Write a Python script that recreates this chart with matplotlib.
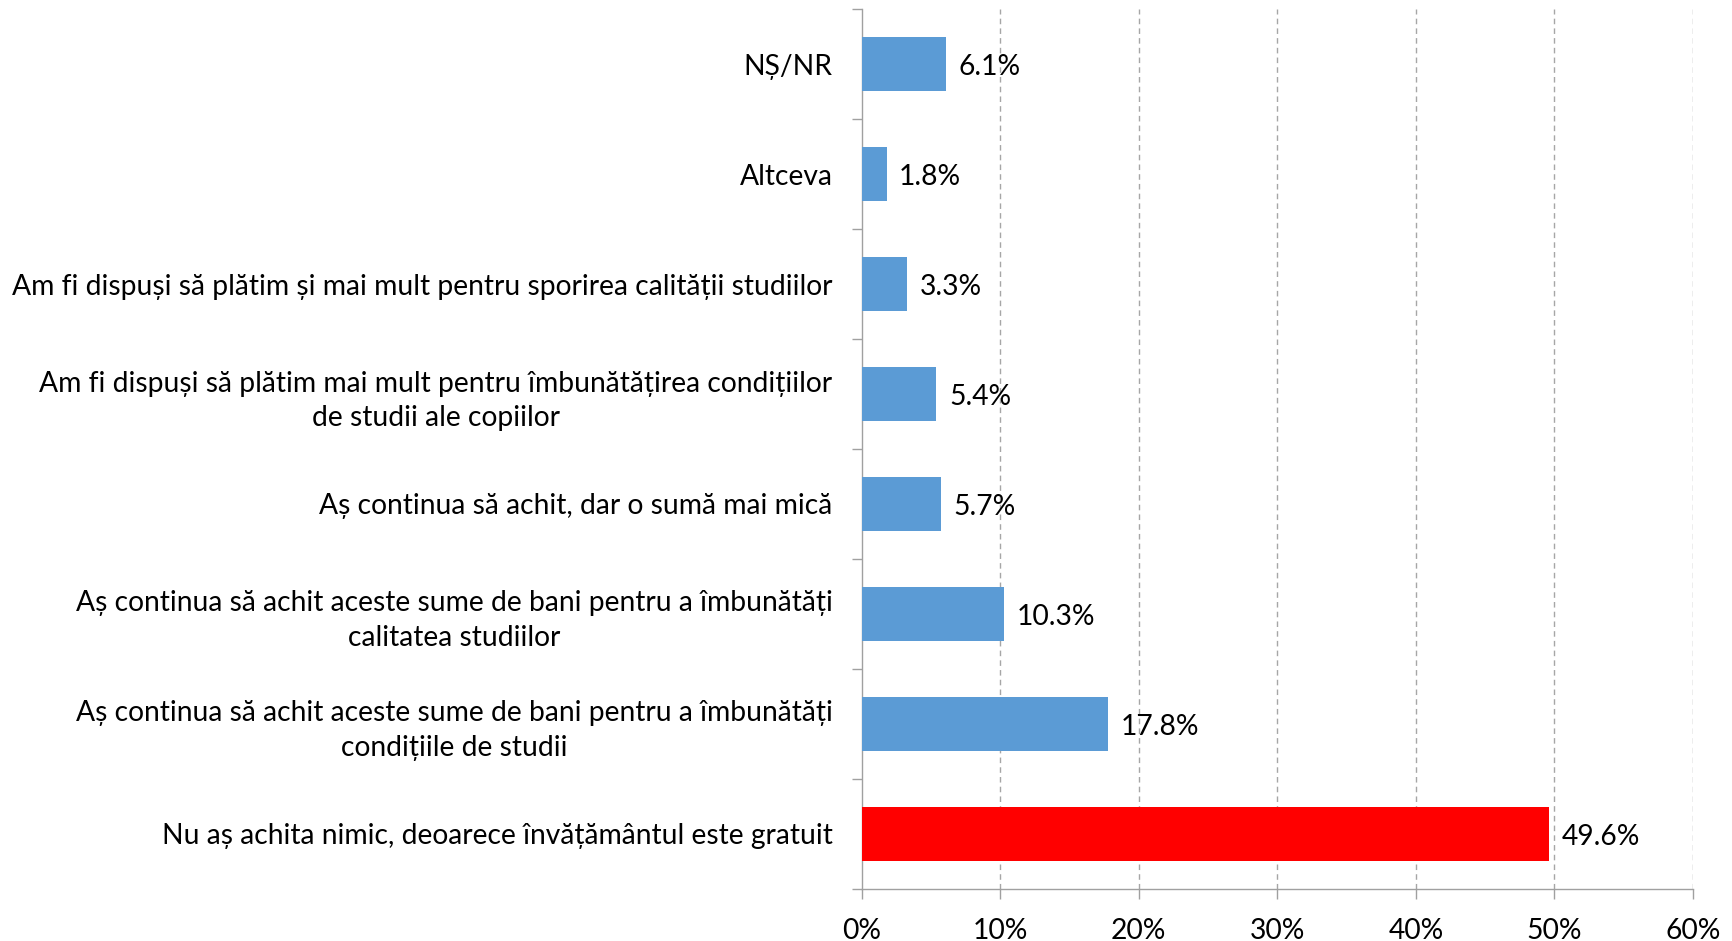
import matplotlib
matplotlib.use("Agg")
import matplotlib.pyplot as plt
from matplotlib.ticker import FixedLocator, PercentFormatter

categories = [
    "Nu aș achita nimic, deoarece învățământul este gratuit",
    "Aș continua să achit aceste sume de bani pentru a îmbunătăți\ncondițiile de studii",
    "Aș continua să achit aceste sume de bani pentru a îmbunătăți\ncalitatea studiilor",
    "Aș continua să achit, dar o sumă mai mică",
    "Am fi dispuși să plătim mai mult pentru îmbunătățirea condițiilor\nde studii ale copiilor",
    "Am fi dispuși să plătim și mai mult pentru sporirea calității studiilor",
    "Altceva",
    "NȘ/NR",
]
values = [49.6, 17.8, 10.3, 5.7, 5.4, 3.3, 1.8, 6.1]
colors = ["#FF0000"] + ["#5B9BD5"] * 7
xticks = [0, 10, 20, 30, 40, 50, 60]

plt.rcParams['font.family'] = ['Lato', 'DejaVu Sans']
FS = 20.3

fig = plt.figure(figsize=(17.32, 9.41), dpi=100)
ax = fig.add_axes([0.4975, 0.0553, 0.9775 - 0.4975, 0.9904 - 0.0553])

y = list(range(len(categories)))
bars = ax.barh(y, values, height=0.49, color=colors, zorder=3)
ax.set_xlim(0, 60)
ax.set_ylim(-0.5, len(categories) - 0.5)

for yi, v in zip(y, values):
    ax.annotate(f"{v:.1f}%", (v, yi), xytext=(9, -2), textcoords="offset points",
                va="center", ha="left", fontsize=FS, color="#000000", zorder=4)

ax.set_xticks(xticks)
ax.xaxis.set_major_formatter(PercentFormatter(decimals=0))
ax.tick_params(axis="x", length=7, width=1, color="#A0A0A0", labelsize=FS, pad=14,
               labelcolor="#000000")
ax.grid(axis="x", color="#A6A6A6", linestyle=(0, (4, 3)), linewidth=1, zorder=0)
ax.xaxis.get_gridlines()[0].set_visible(False)

ax.set_yticks(y)
ax.set_yticklabels(categories, fontsize=FS, color="#000000", ha="right",
                   multialignment="center", linespacing=1.42)
ax.yaxis.set_minor_locator(FixedLocator([i - 0.5 for i in range(len(categories) + 1)]))
ax.tick_params(axis="y", which="major", length=0, pad=21)
ax.tick_params(axis="y", which="minor", length=7, width=1, color="#A0A0A0")

for s in ["top", "right"]:
    ax.spines[s].set_visible(False)
for s in ["left", "bottom"]:
    ax.spines[s].set_color("#A0A0A0")
    ax.spines[s].set_linewidth(1)

fig.savefig("out.png", dpi=100, facecolor="white")
